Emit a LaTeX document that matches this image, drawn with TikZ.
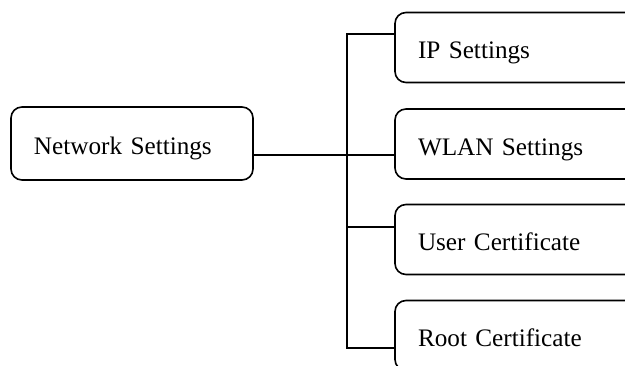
\documentclass[tikz,border=0pt]{standalone}
\usepackage{fontspec}
\setmainfont{Liberation Serif}
\begin{document}
\begin{tikzpicture}[x=1pt,y=-1pt,
  box/.style={draw=black, line width=1.6pt, rounded corners=11pt, align=left,
    inner xsep=23pt, inner ysep=0pt, font=\fontsize{25.2}{30}\selectfont,
    text height=25pt, text depth=3pt},
  leftbox/.style={box, text width=196pt, minimum height=73pt},
  rightbox/.style={box, text width=219pt, minimum height=70pt},
  wire/.style={draw=black, line width=1.2pt}]
\useasboundingbox (0,0) rectangle (625,365);
\clip (0,0) rectangle (625,365);
\node[leftbox] (net) at (132,143.5) {Network Settings};
\node[rightbox] (ip) at (527.5,47.5) {IP Settings};
\node[rightbox] (wlan) at (527.5,144) {WLAN Settings};
\node[rightbox] (user) at (527.5,239.5) {User Certificate};
\node[rightbox] (root) at (527.5,335.5) {Root Certificate};
\coordinate (jtop) at (347,34);
\coordinate (jnet) at (347,155);
\coordinate (juser) at (347,227);
\coordinate (jbot) at (347,348);
\draw[wire] (net.east |- jnet) -- (wlan.west |- jnet);
\draw[wire] (ip.west |- jtop) -- (jtop) -- (jbot) -- (root.west |- jbot);
\draw[wire] (juser) -- (user.west |- juser);
\end{tikzpicture}
\end{document}
